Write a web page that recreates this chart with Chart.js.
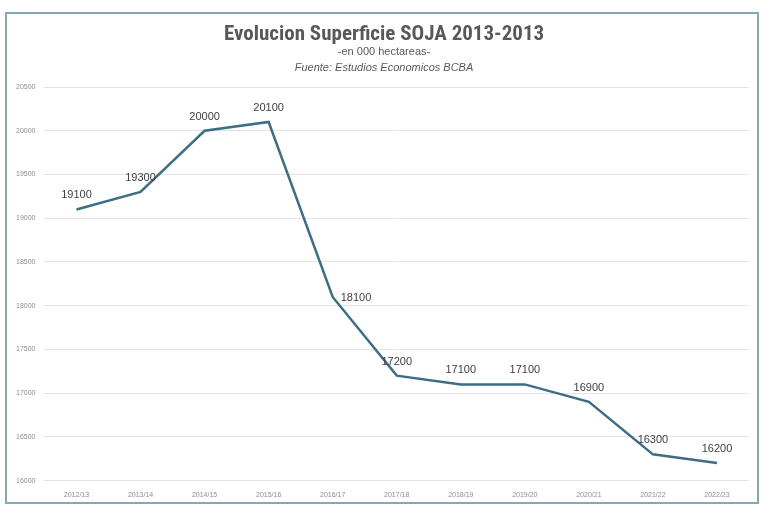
<!DOCTYPE html>
<html>
<head>
<meta charset="utf-8">
<script src="https://cdn.jsdelivr.net/npm/chart.js@4.4.0/dist/chart.umd.min.js"></script>
<style>
  html, body { margin: 0; padding: 0; background: #ffffff; }
  #frame {
    position: absolute; left: 5px; top: 12px; width: 750px; height: 488px;
    border: 2px solid #86a8b2; background: #ffffff;
  }
  #frame canvas { display: block; }
</style>
</head>
<body>
<div id="frame"><canvas id="sojaChart" width="750" height="488"></canvas></div>
<script>
// campañas
var campaigns = ['2012/13', '2013/14', '2014/15', '2015/16', '2016/17', '2017/18', '2018/19', '2019/20', '2020/21', '2021/22', '2022/23'];
// superficie sembrada (miles de ha)
var surface = [19100, 19300, 20000, 20100, 18100, 17200, 17100, 17100, 16900, 16300, 16200];

var chartTitle = 'Evolucion Superficie SOJA 2013-2013';
var chartSubtitle = '-en 000 hectareas-';
var chartSource = 'Fuente: Estudios Economicos BCBA';

var headerPlugin = {
    id: 'header',
    afterDraw: function(chart) {
        var ctx = chart.ctx;
        var cx = 377;
        ctx.save();
        ctx.textAlign = 'center';
        ctx.textBaseline = 'middle';
        ctx.fillStyle = '#595959';
        ctx.font = 'bold 21px "Liberation Sans Narrow", "Roboto Condensed", Arial, sans-serif';
        ctx.fillText(chartTitle, cx, 21);
        ctx.font = '11px "Liberation Sans Narrow", Arial, sans-serif';
        ctx.fillText(chartSubtitle, cx, 38);
        ctx.font = 'italic 11px "Liberation Sans Narrow", Arial, sans-serif';
        ctx.fillText(chartSource, cx, 54);
        ctx.restore();
    }
};

var labelsPlugin = {
    id: 'pointLabels',
    afterDatasetsDraw: function(chart) {
        var ctx = chart.ctx;
        var meta = chart.getDatasetMeta(0);
        ctx.save();
        ctx.fillStyle = '#404040';
        ctx.font = '11px Arial, sans-serif';
        ctx.textBaseline = 'middle';
        meta.data.forEach(function(pt, i) {
            var value = chart.data.datasets[0].data[i];
            if (i === 4) {
                ctx.textAlign = 'left';
                ctx.fillText(value, pt.x + 8, pt.y + 1);
            } else {
                ctx.textAlign = 'center';
                ctx.fillText(value, pt.x, pt.y - 14);
            }
        });
        ctx.restore();
    }
};

const config = {
    type: 'line',
    data: {
        labels: campaigns,
        datasets: [{
            label: 'Superficie',
            data: surface,
            borderColor: '#3d6e85',
            borderWidth: 2.5,
            pointRadius: 0,
            tension: 0,
            fill: false
        }]
    },
    options: {
        responsive: false,
        animation: false,
        layout: {
            padding: { top: 73, left: 0, right: 8, bottom: 1 }
        },
        plugins: {
            legend: { display: false },
            tooltip: { enabled: false }
        },
        scales: {
            x: {
                offset: true,
                grid: { display: false },
                border: { display: false },
                ticks: {
                    color: '#8c8c8c',
                    font: { size: 7, family: 'Arial, sans-serif' },
                    maxRotation: 0,
                    padding: 2
                }
            },
            y: {
                min: 16000,
                max: 20500,
                grid: { color: '#e3e3e3', drawTicks: false },
                border: { display: false },
                ticks: {
                    stepSize: 500,
                    color: '#8c8c8c',
                    font: { size: 7, family: 'Arial, sans-serif' },
                    padding: 9,
                    callback: function(v) { return String(v); }
                }
            }
        }
    },
    plugins: [headerPlugin, labelsPlugin]
};

const ctx = document.getElementById('sojaChart').getContext('2d');
new Chart(ctx, config);
</script>
</body>
</html>
